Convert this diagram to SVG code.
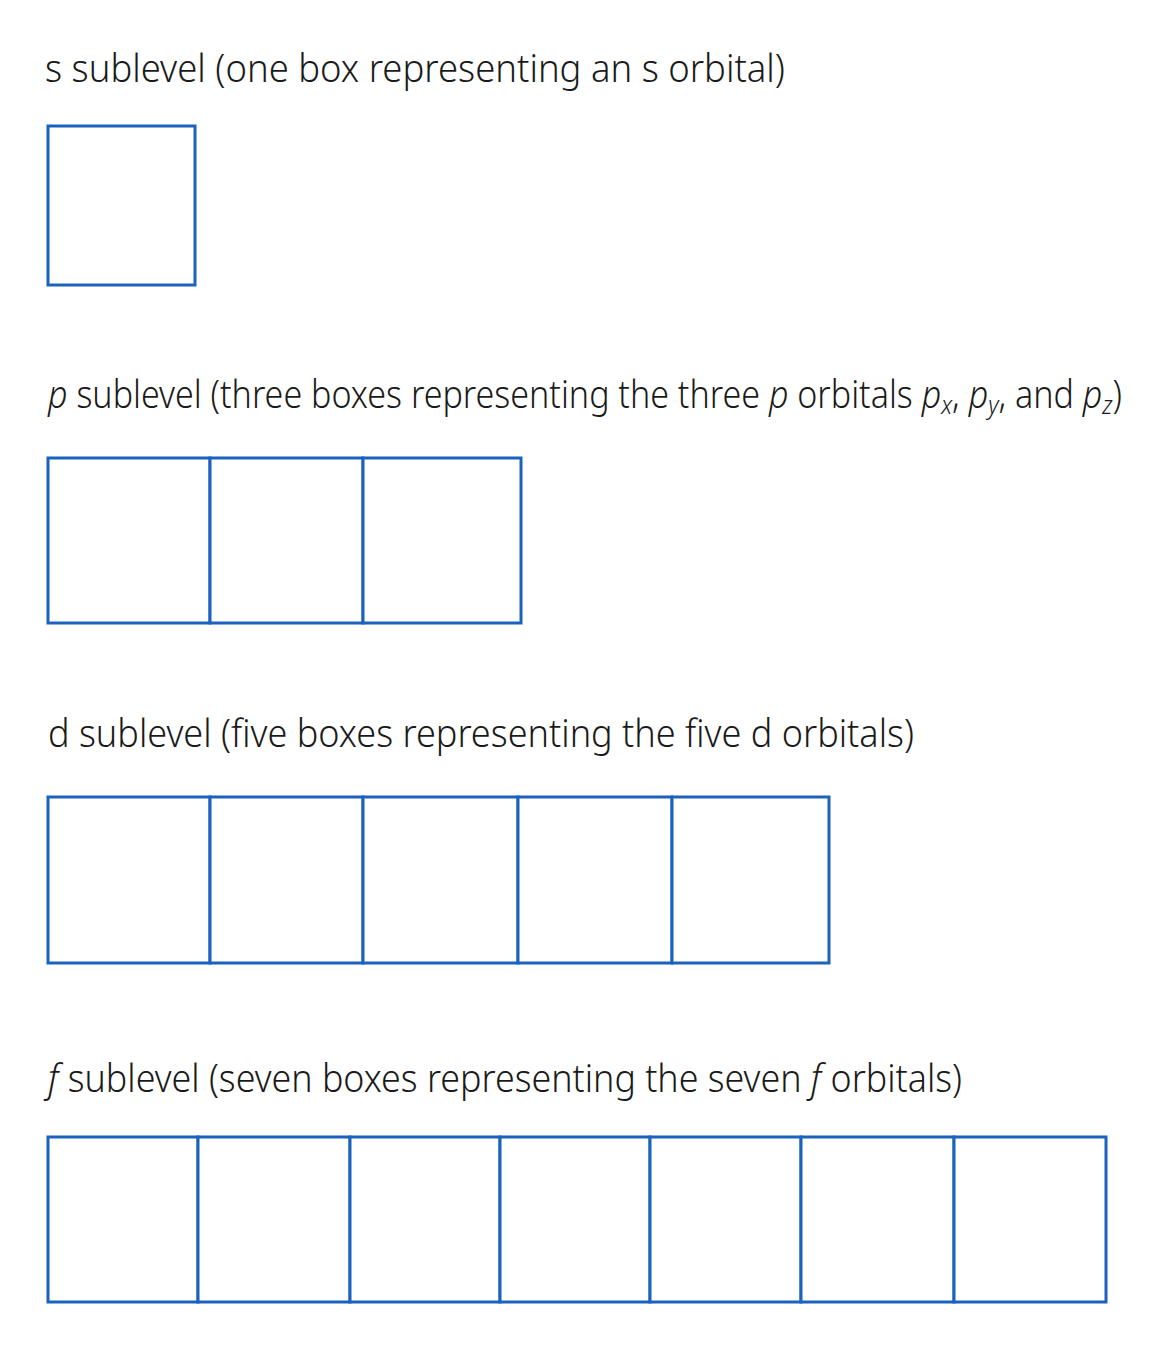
<svg xmlns="http://www.w3.org/2000/svg" width="1162" height="1353" viewBox="0 0 1162 1353">
  <style>
    .lbl { font-family: "Noto Sans", "Open Sans", "DejaVu Sans", sans-serif; font-size: 38px; font-weight: 300; fill: #1a1a1a; }
    .it { font-style: italic; }
    .sub { font-size: 26px; font-style: italic; }
    .orb { fill: #ffffff; stroke: #1a62bd; stroke-width: 3; }
  </style>
  <rect width="1162" height="1353" fill="#ffffff"/>

  <g id="label-s">
    <text class="lbl" x="45" y="82" textLength="740" lengthAdjust="spacingAndGlyphs">s sublevel (one box representing an s orbital)</text>
  </g>
  <g id="s-sublevel">
    <rect class="orb" x="48" y="126" width="147" height="159"/>
  </g>

  <g id="label-p">
    <text class="lbl" x="48" y="408" textLength="1074" lengthAdjust="spacingAndGlyphs"><tspan class="it">p</tspan> sublevel (three boxes representing the three <tspan class="it">p</tspan> orbitals <tspan class="it">p</tspan><tspan class="sub" dy="6">x</tspan><tspan dy="-6">, </tspan><tspan class="it">p</tspan><tspan class="sub" dy="6">y</tspan><tspan dy="-6">, and </tspan><tspan class="it">p</tspan><tspan class="sub" dy="6">z</tspan><tspan dy="-6">)</tspan></text>
  </g>
  <g id="p-sublevel">
    <rect class="orb" x="48" y="458" width="162" height="165"/>
    <rect class="orb" x="210" y="458" width="153" height="165"/>
    <rect class="orb" x="363" y="458" width="158" height="165"/>
  </g>

  <g id="label-d">
    <text class="lbl" x="48" y="747" textLength="866" lengthAdjust="spacingAndGlyphs">d sublevel (five boxes representing the five d orbitals)</text>
  </g>
  <g id="d-sublevel">
    <rect class="orb" x="48" y="797" width="162" height="166"/>
    <rect class="orb" x="210" y="797" width="153" height="166"/>
    <rect class="orb" x="363" y="797" width="155" height="166"/>
    <rect class="orb" x="518" y="797" width="154" height="166"/>
    <rect class="orb" x="672" y="797" width="157" height="166"/>
  </g>

  <g id="label-f">
    <text class="lbl" x="48" y="1092" textLength="914" lengthAdjust="spacingAndGlyphs"><tspan class="it">f</tspan> sublevel (seven boxes representing the seven <tspan class="it">f</tspan> orbitals)</text>
  </g>
  <g id="f-sublevel">
    <rect class="orb" x="48" y="1137" width="150" height="165"/>
    <rect class="orb" x="198" y="1137" width="152" height="165"/>
    <rect class="orb" x="350" y="1137" width="150" height="165"/>
    <rect class="orb" x="500" y="1137" width="150" height="165"/>
    <rect class="orb" x="650" y="1137" width="151" height="165"/>
    <rect class="orb" x="801" y="1137" width="153" height="165"/>
    <rect class="orb" x="954" y="1137" width="152" height="165"/>
  </g>

  <g id="connectors"></g>
</svg>
